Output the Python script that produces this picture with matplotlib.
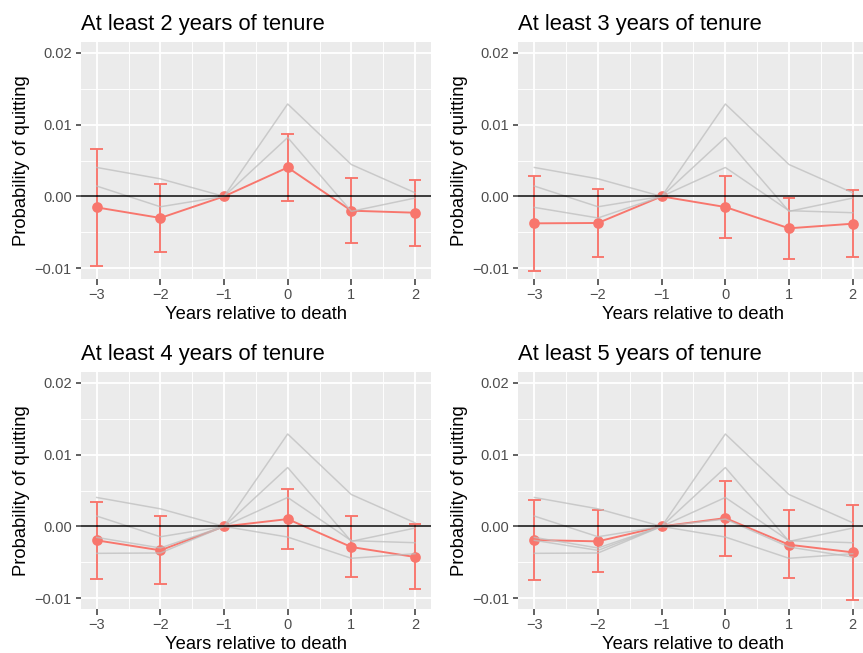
import matplotlib
matplotlib.use("Agg")
import matplotlib.pyplot as plt
from matplotlib.ticker import FixedLocator, FixedFormatter

plt.rcParams["font.family"] = ["Liberation Sans", "DejaVu Sans"]

years = [-3, -2, -1, 0, 1, 2]
year_labels = ["\u22123", "\u22122", "\u22121", "0", "1", "2"]
y_ticks = [-0.01, 0.0, 0.01, 0.02]
y_tick_labels = ["\u22120.01", "0.00", "0.01", "0.02"]

# broader specifications, always shown in grey for comparison
base_any = [0.00403, 0.00245, 0.0, 0.01287, 0.00444, 0.00051]
base_one = [0.00144, -0.00144, 0.0, 0.00820, -0.00208, -0.00023]

# estimates with 95% confidence bounds, one set per tenure threshold
tenure2_est = [-0.00153, -0.00300, 0.0, 0.00403, -0.00199, -0.00227]
tenure2_lo = [-0.00968, -0.00773, 0.0, -0.00069, -0.00653, -0.00690]
tenure2_hi = [0.00667, 0.00176, 0.0, 0.00866, 0.00250, 0.00231]

tenure3_est = [-0.00375, -0.00370, 0.0, -0.00148, -0.00444, -0.00380]
tenure3_lo = [-0.01040, -0.00850, 0.0, -0.00579, -0.00875, -0.00850]
tenure3_hi = [0.00282, 0.00106, 0.0, 0.00282, -0.00019, 0.00088]

tenure4_est = [-0.00194, -0.00333, 0.0, 0.00102, -0.00287, -0.00426]
tenure4_lo = [-0.00727, -0.00806, 0.0, -0.00320, -0.00704, -0.00870]
tenure4_hi = [0.00338, 0.00144, 0.0, 0.00519, 0.00139, 0.00028]

tenure5_est = [-0.00190, -0.00208, 0.0, 0.00116, -0.00255, -0.00361]
tenure5_lo = [-0.00740, -0.00634, 0.0, -0.00407, -0.00718, -0.01028]
tenure5_hi = [0.00361, 0.00222, 0.0, 0.00639, 0.00231, 0.00301]

titles = [
    "At least 2 years of tenure",
    "At least 3 years of tenure",
    "At least 4 years of tenure",
    "At least 5 years of tenure",
]
estimates = [tenure2_est, tenure3_est, tenure4_est, tenure5_est]
lowers = [tenure2_lo, tenure3_lo, tenure4_lo, tenure5_lo]
uppers = [tenure2_hi, tenure3_hi, tenure4_hi, tenure5_hi]

RED = "#F8766D"
BG = "#EBEBEB"
DPI = 120
W, H = 863, 653

fig = plt.figure(figsize=(W / DPI, H / DPI), dpi=DPI)
fig.patch.set_facecolor("white")

# panel boxes in pixels: left, top, right, bottom
boxes = [
    (80.8, 42, 430.9, 279),
    (518.4, 42, 868.6, 279),
    (80.8, 372, 430.9, 609),
    (518.4, 372, 868.6, 609),
]

cap = 0.1
for i, (l, t, r, b) in enumerate(boxes):
    ax = fig.add_axes([l / W, 1 - b / H, (r - l) / W, (b - t) / H])
    ax.set_facecolor(BG)
    for s in ax.spines.values():
        s.set_visible(False)
    ax.set_xlim(-3.25, 2.25)
    ax.set_ylim(-0.0115, 0.0215)

    ax.xaxis.set_major_locator(FixedLocator(years))
    ax.xaxis.set_major_formatter(FixedFormatter(year_labels))
    ax.xaxis.set_minor_locator(FixedLocator([-2.5, -1.5, -0.5, 0.5, 1.5]))
    ax.yaxis.set_major_locator(FixedLocator(y_ticks))
    ax.yaxis.set_major_formatter(FixedFormatter(y_tick_labels))
    ax.yaxis.set_minor_locator(FixedLocator([-0.005, 0.005, 0.015]))
    ax.grid(which="major", color="white", linewidth=1.1)
    ax.grid(which="minor", color="white", linewidth=0.55)
    ax.set_axisbelow(True)
    ax.tick_params(which="major", length=3.3, width=0.9, color="#333333",
                   labelsize=8.8, labelcolor="#4D4D4D", pad=2.2)
    ax.tick_params(which="minor", length=0)

    est, lo, hi = estimates[i], lowers[i], uppers[i]
    ax.vlines(years, lo, hi, color=RED, linewidth=1.15, zorder=3)
    ax.hlines(lo, [x - cap for x in years], [x + cap for x in years],
              color=RED, linewidth=1.15, zorder=3)
    ax.hlines(hi, [x - cap for x in years], [x + cap for x in years],
              color=RED, linewidth=1.15, zorder=3)
    ax.plot(years, est, color=RED, linewidth=1.15, zorder=3)
    ax.plot(years, est, "o", color=RED, markersize=5.4, zorder=3)

    # broader specifications plus every lower tenure threshold
    comparisons = [base_any, base_one] + estimates[:i]
    for series in comparisons:
        ax.plot(years, series, color="#BEBEBE", linewidth=0.9, alpha=0.75, zorder=4)

    ax.axhline(0, color="black", linewidth=0.9, zorder=5)

    ax.set_title(titles[i], loc="left", fontsize=13.2, color="black", pad=7)
    ax.set_xlabel("Years relative to death", fontsize=11, labelpad=2.5)
    ax.set_ylabel("Probability of quitting", fontsize=11, labelpad=2.75)

fig.savefig("out.png", dpi=DPI)
